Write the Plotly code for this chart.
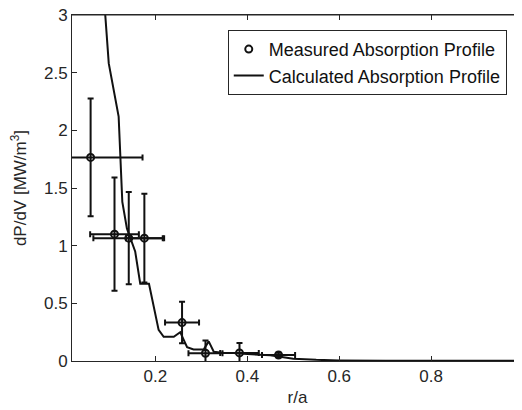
import plotly.graph_objects as go

# Measured absorption profile (r/a, dP/dV) with error bars
meas_x = [0.059, 0.111, 0.142, 0.176, 0.258, 0.309, 0.383, 0.468]
meas_y = [1.765, 1.10, 1.065, 1.065, 0.333, 0.067, 0.07, 0.052]
meas_xerr = [0.113, 0.053, 0.077, 0.040, 0.037, 0.037, 0.042, 0.036]
meas_yerr = [0.51, 0.49, 0.40, 0.385, 0.18, 0.11, 0.085, 0.02]

# Calculated absorption profile
calc_x = [0.080, 0.091, 0.0985, 0.120, 0.124, 0.128, 0.138, 0.152, 0.156, 0.167,
          0.186, 0.207, 0.218, 0.240, 0.254, 0.269, 0.283, 0.305, 0.316, 0.327,
          0.350, 0.370, 0.400, 0.450, 0.500, 0.550, 0.600, 0.700, 0.800, 1.000]
calc_y = [3.60, 3.00, 2.58, 2.12, 1.70, 1.38, 1.15, 1.00, 0.95, 0.67,
          0.67, 0.27, 0.21, 0.21, 0.25, 0.12, 0.10, 0.10, 0.17, 0.08,
          0.07, 0.07, 0.06, 0.05, 0.02, 0.01, 0.005, 0.003, 0.002, 0.001]

x_ticks = [0.2, 0.4, 0.6, 0.8, 1.0]
x_ticktext = ["0.2", "0.4", "0.6", "0.8", "1"]
y_ticks = [0, 0.5, 1, 1.5, 2, 2.5, 3]
y_ticktext = ["0", "0.5", "1", "1.5", "2", "2.5", "3"]

AX = "#262626"
FONT = "Liberation Sans, Arial, Helvetica, sans-serif"
X_RANGE = [0.0185, 1.0]
Y_RANGE = [0, 3]

fig = go.Figure()
fig.add_trace(go.Scatter(
    x=meas_x, y=meas_y, mode="markers",
    name="Measured Absorption Profile",
    marker=dict(symbol="circle-open", size=7, color="#111111", line=dict(width=2, color="#111111")),
    error_x=dict(type="data", array=meas_xerr, color="#111111", thickness=2, width=3),
    error_y=dict(type="data", array=meas_yerr, color="#111111", thickness=2, width=3),
    cliponaxis=True,
))
fig.add_trace(go.Scatter(
    x=calc_x, y=calc_y, mode="lines",
    name="Calculated Absorption Profile",
    line=dict(color="#111111", width=2),
))

# The page body has an 8px margin, so margins are offset to place the axes
fig.update_layout(
    width=522, height=410,
    margin=dict(l=64, r=7, t=7, b=57),
    paper_bgcolor="white", plot_bgcolor="white",
    font=dict(family=FONT, size=17, color=AX),
    showlegend=True,
    legend=dict(
        x=0.964, y=0.957, xanchor="right", yanchor="top",
        bgcolor="white", bordercolor=AX, borderwidth=1,
        font=dict(family=FONT, size=18, color="#111111"),
        tracegroupgap=0,
    ),
    xaxis=dict(
        range=X_RANGE, tickvals=x_ticks, ticktext=x_ticktext,
        ticks="inside", ticklen=5, tickcolor=AX, showline=True, linecolor=AX, linewidth=1,
        mirror="allticks",
        showgrid=False, zeroline=False, automargin=False, ticklabeloverflow="allow",
        title=dict(text="r/a", standoff=5, font=dict(family=FONT, size=17, color=AX)),
        tickfont=dict(family=FONT, size=17, color=AX),
    ),
    yaxis=dict(
        range=Y_RANGE, tickvals=y_ticks, ticktext=y_ticktext,
        ticks="inside", ticklen=5, tickcolor=AX, showline=True, linecolor=AX, linewidth=1,
        showgrid=False, zeroline=False, automargin=False, ticklabeloverflow="allow",
        title=dict(text="dP/dV [MW/m<sup>3</sup>]", standoff=19, font=dict(family=FONT, size=17, color=AX)),
        tickfont=dict(family=FONT, size=17, color=AX),
    ),
    shapes=[
        dict(type="line", xref="paper", yref="paper", x0=0, x1=1, y0=1, y1=1,
             line=dict(color=AX, width=1), layer="above"),
    ],
)

fig.write_html("out.html")
